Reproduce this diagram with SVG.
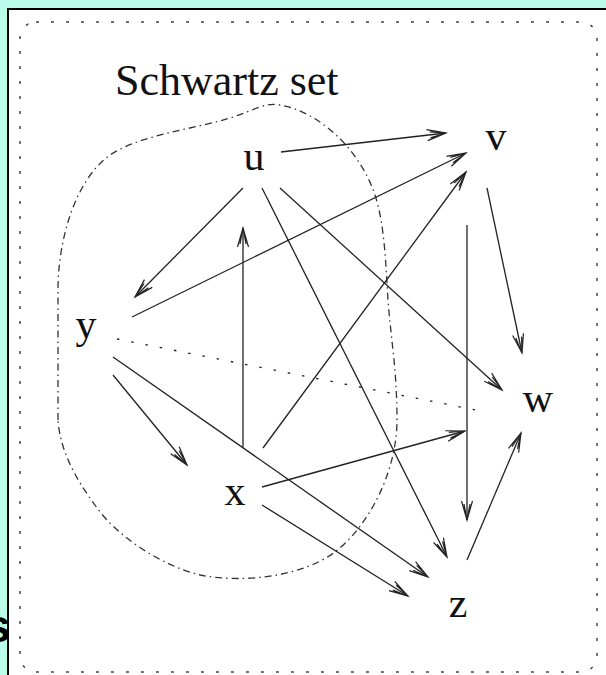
<svg xmlns="http://www.w3.org/2000/svg" width="606" height="675" viewBox="0 0 606 675">
<defs>
<style>
.lbl{font-family:"Liberation Serif","Times New Roman",serif;font-size:42px;fill:#111;text-anchor:middle}
.edge{stroke:#222;stroke-width:1.3;fill:none}
.arr{marker-end:url(#ah)}
</style>
<marker id="ah" markerUnits="userSpaceOnUse" markerWidth="24" markerHeight="14" refX="20" refY="7" orient="auto">
<path d="M1,1.5 L20,7 L1,12.5 M4,4 L20,7 L4,10" fill="none" stroke="#222" stroke-width="1.2"/>
</marker>
</defs>
<rect x="0" y="0" width="606" height="675" fill="#bafce9"/>
<text x="-15" y="642" font-family="Liberation Sans, Arial, sans-serif" font-weight="bold" font-size="46" fill="#000">s</text>
<rect x="8" y="9" width="620" height="700" fill="#fff" stroke="#000" stroke-width="2"/>
<rect id="frame" x="20" y="22" width="577" height="650" rx="16" ry="16" fill="none" stroke="#444" stroke-width="1.5" stroke-dasharray="3 12"/>
<path id="schwartz-boundary" d="M58,420 L58,290 C58,240 75,180 110,155 C140,135 190,130 230,118 C255,110 265,102 280,105 C320,112 360,150 375,195 C385,225 386,270 388,300 C391,340 397,370 397,420 C397,470 370,525 335,552 C300,578 240,583 200,575 C160,565 115,535 95,505 C75,478 60,450 58,420 Z" fill="none" stroke="#333" stroke-width="1.3" stroke-dasharray="7 4 1.5 4"/>
<text id="schwartz-label" x="115" y="95" font-family="Liberation Serif, Times New Roman, serif" font-size="44" fill="#111">Schwartz set</text>
<g id="connectors">
<line class="edge arr" x1="281" y1="152" x2="446" y2="133"/>
<line class="edge arr" x1="132" y1="317" x2="466" y2="153"/>
<line class="edge arr" x1="263" y1="448" x2="466" y2="172"/>
<line class="edge arr" x1="487" y1="188" x2="522" y2="353"/>
<line class="edge arr" x1="243" y1="188" x2="135" y2="297"/>
<line class="edge arr" x1="243" y1="447" x2="243" y2="228"/>
<line class="edge arr" x1="280" y1="188" x2="502" y2="390"/>
<line class="edge arr" x1="262" y1="188" x2="447" y2="557"/>
<line class="edge arr" x1="467" y1="225" x2="467" y2="520"/>
<line class="edge arr" x1="467" y1="560" x2="521" y2="433"/>
<line class="edge arr" x1="262" y1="487" x2="465" y2="431"/>
<line class="edge arr" x1="262" y1="505" x2="408" y2="596"/>
<line class="edge arr" x1="113" y1="357" x2="428" y2="577"/>
<line class="edge arr" x1="113" y1="375" x2="187" y2="465"/>
<line class="edge" x1="117" y1="339" x2="486" y2="412" stroke-dasharray="2.5 12"/>
</g>
<g id="node-u"><text class="lbl" x="254" y="170">u</text></g>
<g id="node-v"><text class="lbl" x="496" y="150">v</text></g>
<g id="node-y"><text class="lbl" x="86" y="338">y</text></g>
<g id="node-w"><text class="lbl" x="538" y="412">w</text></g>
<g id="node-x"><text class="lbl" x="235" y="505">x</text></g>
<g id="node-z"><text class="lbl" x="458" y="617">z</text></g>
</svg>
